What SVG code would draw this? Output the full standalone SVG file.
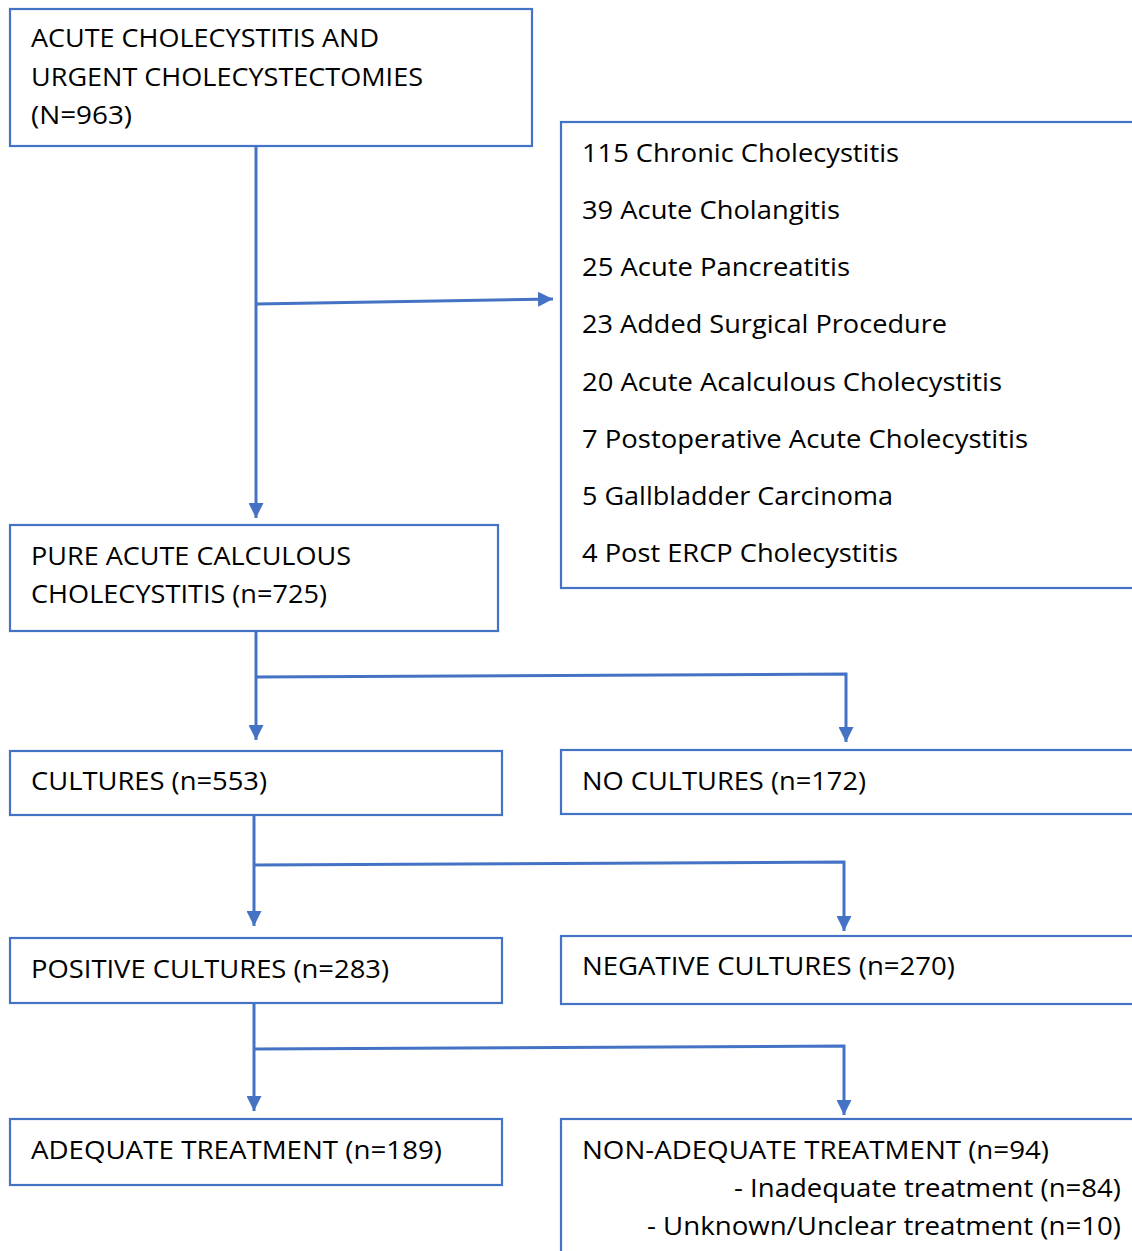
<svg xmlns="http://www.w3.org/2000/svg" width="1132" height="1251" viewBox="0 0 1132 1251">
<style>
.box{fill:#fff;stroke:#4472C4;stroke-width:2.2}
.t{font-family:"Open Sans","Noto Sans",sans-serif;font-size:25px;fill:#000}
.c{fill:none;stroke:#4472C4;stroke-width:3}
</style>
<defs>
<marker id="ah" viewBox="0 0 10 10" refX="10" refY="5" markerWidth="5" markerHeight="5" orient="auto" markerUnits="strokeWidth">
<path d="M0,0 L10,5 L0,10 z" fill="#4472C4"/>
</marker>
</defs>
<rect width="1132" height="1251" fill="#fff"/>
<g id="connectors">
<path class="c" d="M256,146 V518" marker-end="url(#ah)"/>
<path class="c" d="M256,304 L553,299" marker-end="url(#ah)"/>
<path class="c" d="M256,631 V740" marker-end="url(#ah)"/>
<path class="c" d="M256,677 L846,674 V742" marker-end="url(#ah)"/>
<path class="c" d="M254,815 V926" marker-end="url(#ah)"/>
<path class="c" d="M254,865 L844,862 V931" marker-end="url(#ah)"/>
<path class="c" d="M254,1003 V1111" marker-end="url(#ah)"/>
<path class="c" d="M254,1049 L844,1046 V1115" marker-end="url(#ah)"/>
</g>
<g id="n1">
<rect class="box" x="10" y="9" width="522" height="137"/>
<text class="t" x="31" y="47" textLength="348" lengthAdjust="spacingAndGlyphs">ACUTE CHOLECYSTITIS AND</text>
<text class="t" x="31" y="86" textLength="392" lengthAdjust="spacingAndGlyphs">URGENT CHOLECYSTECTOMIES</text>
<text class="t" x="31" y="124" textLength="101" lengthAdjust="spacingAndGlyphs">(N=963)</text>
</g>
<g id="n2">
<rect class="box" x="561" y="122" width="600" height="466"/>
<text class="t" x="582" y="162" textLength="317" lengthAdjust="spacingAndGlyphs">115 Chronic Cholecystitis</text>
<text class="t" x="582" y="219" textLength="258" lengthAdjust="spacingAndGlyphs">39 Acute Cholangitis</text>
<text class="t" x="582" y="276" textLength="268" lengthAdjust="spacingAndGlyphs">25 Acute Pancreatitis</text>
<text class="t" x="582" y="333" textLength="365" lengthAdjust="spacingAndGlyphs">23 Added Surgical Procedure</text>
<text class="t" x="582" y="391" textLength="420" lengthAdjust="spacingAndGlyphs">20 Acute Acalculous Cholecystitis</text>
<text class="t" x="582" y="448" textLength="446" lengthAdjust="spacingAndGlyphs">7 Postoperative Acute Cholecystitis</text>
<text class="t" x="582" y="505" textLength="311" lengthAdjust="spacingAndGlyphs">5 Gallbladder Carcinoma</text>
<text class="t" x="582" y="562" textLength="316" lengthAdjust="spacingAndGlyphs">4 Post ERCP Cholecystitis</text>
</g>
<g id="n3">
<rect class="box" x="10" y="525" width="488" height="106"/>
<text class="t" x="31" y="565" textLength="320" lengthAdjust="spacingAndGlyphs">PURE ACUTE CALCULOUS</text>
<text class="t" x="31" y="603" textLength="296" lengthAdjust="spacingAndGlyphs">CHOLECYSTITIS (n=725)</text>
</g>
<g id="n4">
<rect class="box" x="10" y="751" width="492" height="64"/>
<text class="t" x="31" y="790" textLength="236" lengthAdjust="spacingAndGlyphs">CULTURES (n=553)</text>
</g>
<g id="n5">
<rect class="box" x="561" y="750" width="600" height="64"/>
<text class="t" x="582" y="790" textLength="284" lengthAdjust="spacingAndGlyphs">NO CULTURES (n=172)</text>
</g>
<g id="n6">
<rect class="box" x="10" y="938" width="492" height="65"/>
<text class="t" x="31" y="978" textLength="358" lengthAdjust="spacingAndGlyphs">POSITIVE CULTURES (n=283)</text>
</g>
<g id="n7">
<rect class="box" x="561" y="936" width="600" height="68"/>
<text class="t" x="582" y="975" textLength="373" lengthAdjust="spacingAndGlyphs">NEGATIVE CULTURES (n=270)</text>
</g>
<g id="n8">
<rect class="box" x="10" y="1119" width="492" height="66"/>
<text class="t" x="31" y="1159" textLength="411" lengthAdjust="spacingAndGlyphs">ADEQUATE TREATMENT (n=189)</text>
</g>
<g id="n9">
<rect class="box" x="561" y="1119" width="600" height="160"/>
<text class="t" x="582" y="1159" textLength="467" lengthAdjust="spacingAndGlyphs">NON-ADEQUATE TREATMENT (n=94)</text>
<text class="t" x="734" y="1197" textLength="387" lengthAdjust="spacingAndGlyphs">- Inadequate treatment (n=84)</text>
<text class="t" x="647" y="1235" textLength="474" lengthAdjust="spacingAndGlyphs">- Unknown/Unclear treatment (n=10)</text>
</g>
</svg>
